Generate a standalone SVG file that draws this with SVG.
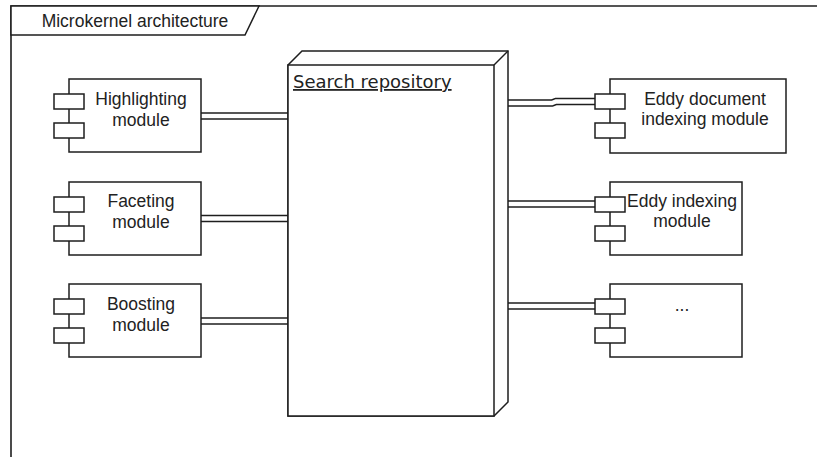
<svg xmlns="http://www.w3.org/2000/svg" width="817" height="457" viewBox="0 0 817 457">
  <style>
    .ln { fill: #ffffff; stroke: #1e1e1e; stroke-width: 1.5; }
    .lbl { font-family: "Liberation Sans", Arial, sans-serif; font-size: 17.5px; fill: #222222; text-anchor: middle; }
    .wire-out { fill: none; stroke: #1e1e1e; stroke-width: 7.5; }
    .wire-in { fill: none; stroke: #ffffff; stroke-width: 4.5; }
  </style>
  <defs>
    <!-- UML component: body with two port tabs on the left -->
    <g id="component">
      <rect class="ln" x="15" y="0" width="132" height="73"/>
      <rect class="ln" x="0" y="15" width="30" height="15"/>
      <rect class="ln" x="0" y="44" width="30" height="15"/>
    </g>
  </defs>
  <rect width="817" height="457" fill="#ffffff"/>

  <!-- frame -->
  <g id="frame">
    <path d="M11,457 V6 H817" fill="none" stroke="#1e1e1e" stroke-width="1.6"/>
    <path class="ln" d="M11,6 H259 L245,35 H11 Z"/>
    <text class="lbl" x="135" y="27">Microkernel architecture</text>
  </g>

  <!-- connectors -->
  <g id="connectors">
    <path class="wire-out" d="M201,116 H289"/>
    <path class="wire-in" d="M201,116 H289"/>
    <path class="wire-out" d="M201,218.5 H289"/>
    <path class="wire-in" d="M201,218.5 H289"/>
    <path class="wire-out" d="M201,321 H291"/>
    <path class="wire-in" d="M201,321 H291"/>
    <path class="wire-out" d="M508,103 H552 L556,101.5 H596"/>
    <path class="wire-in" d="M508,103 H552 L556,101.5 H596"/>
    <path class="wire-out" d="M508,204 H596"/>
    <path class="wire-in" d="M508,204 H596"/>
    <path class="wire-out" d="M508,306 H596"/>
    <path class="wire-in" d="M508,306 H596"/>
  </g>

  <!-- search repository node (3D box) -->
  <g id="search-repository">
    <path class="ln" d="M288,65 L302,51 H508 V402 L494,416 H288 Z"/>
    <path class="ln" d="M288,65 H494 V416 H288 Z"/>
    <path class="ln" d="M494,65 L508,51"/>
    <text x="293" y="88" font-family="DejaVu Sans, sans-serif" font-size="18" fill="#222222" text-decoration="underline">Search repository</text>
  </g>

  <g id="highlighting-module">
    <use href="#component" x="54" y="79"/>
    <text class="lbl" x="141" y="105">Highlighting</text>
    <text class="lbl" x="141" y="126">module</text>
  </g>

  <g id="faceting-module">
    <use href="#component" x="54" y="182"/>
    <text class="lbl" x="141" y="207">Faceting</text>
    <text class="lbl" x="141" y="228">module</text>
  </g>

  <g id="boosting-module">
    <use href="#component" x="54" y="284"/>
    <text class="lbl" x="141" y="310">Boosting</text>
    <text class="lbl" x="141" y="331">module</text>
  </g>

  <g id="eddy-document-indexing-module">
    <rect class="ln" x="610" y="79" width="176" height="74"/>
    <rect class="ln" x="595" y="94" width="30" height="15"/>
    <rect class="ln" x="595" y="123" width="30" height="15"/>
    <text class="lbl" x="705" y="105">Eddy document</text>
    <text class="lbl" x="705" y="125">indexing module</text>
  </g>

  <g id="eddy-indexing-module">
    <use href="#component" x="595" y="182"/>
    <text class="lbl" x="682" y="207">Eddy indexing</text>
    <text class="lbl" x="682" y="227">module</text>
  </g>

  <g id="more-modules">
    <use href="#component" x="595" y="284"/>
    <text class="lbl" x="682" y="311" font-size="13">...</text>
  </g>
</svg>
